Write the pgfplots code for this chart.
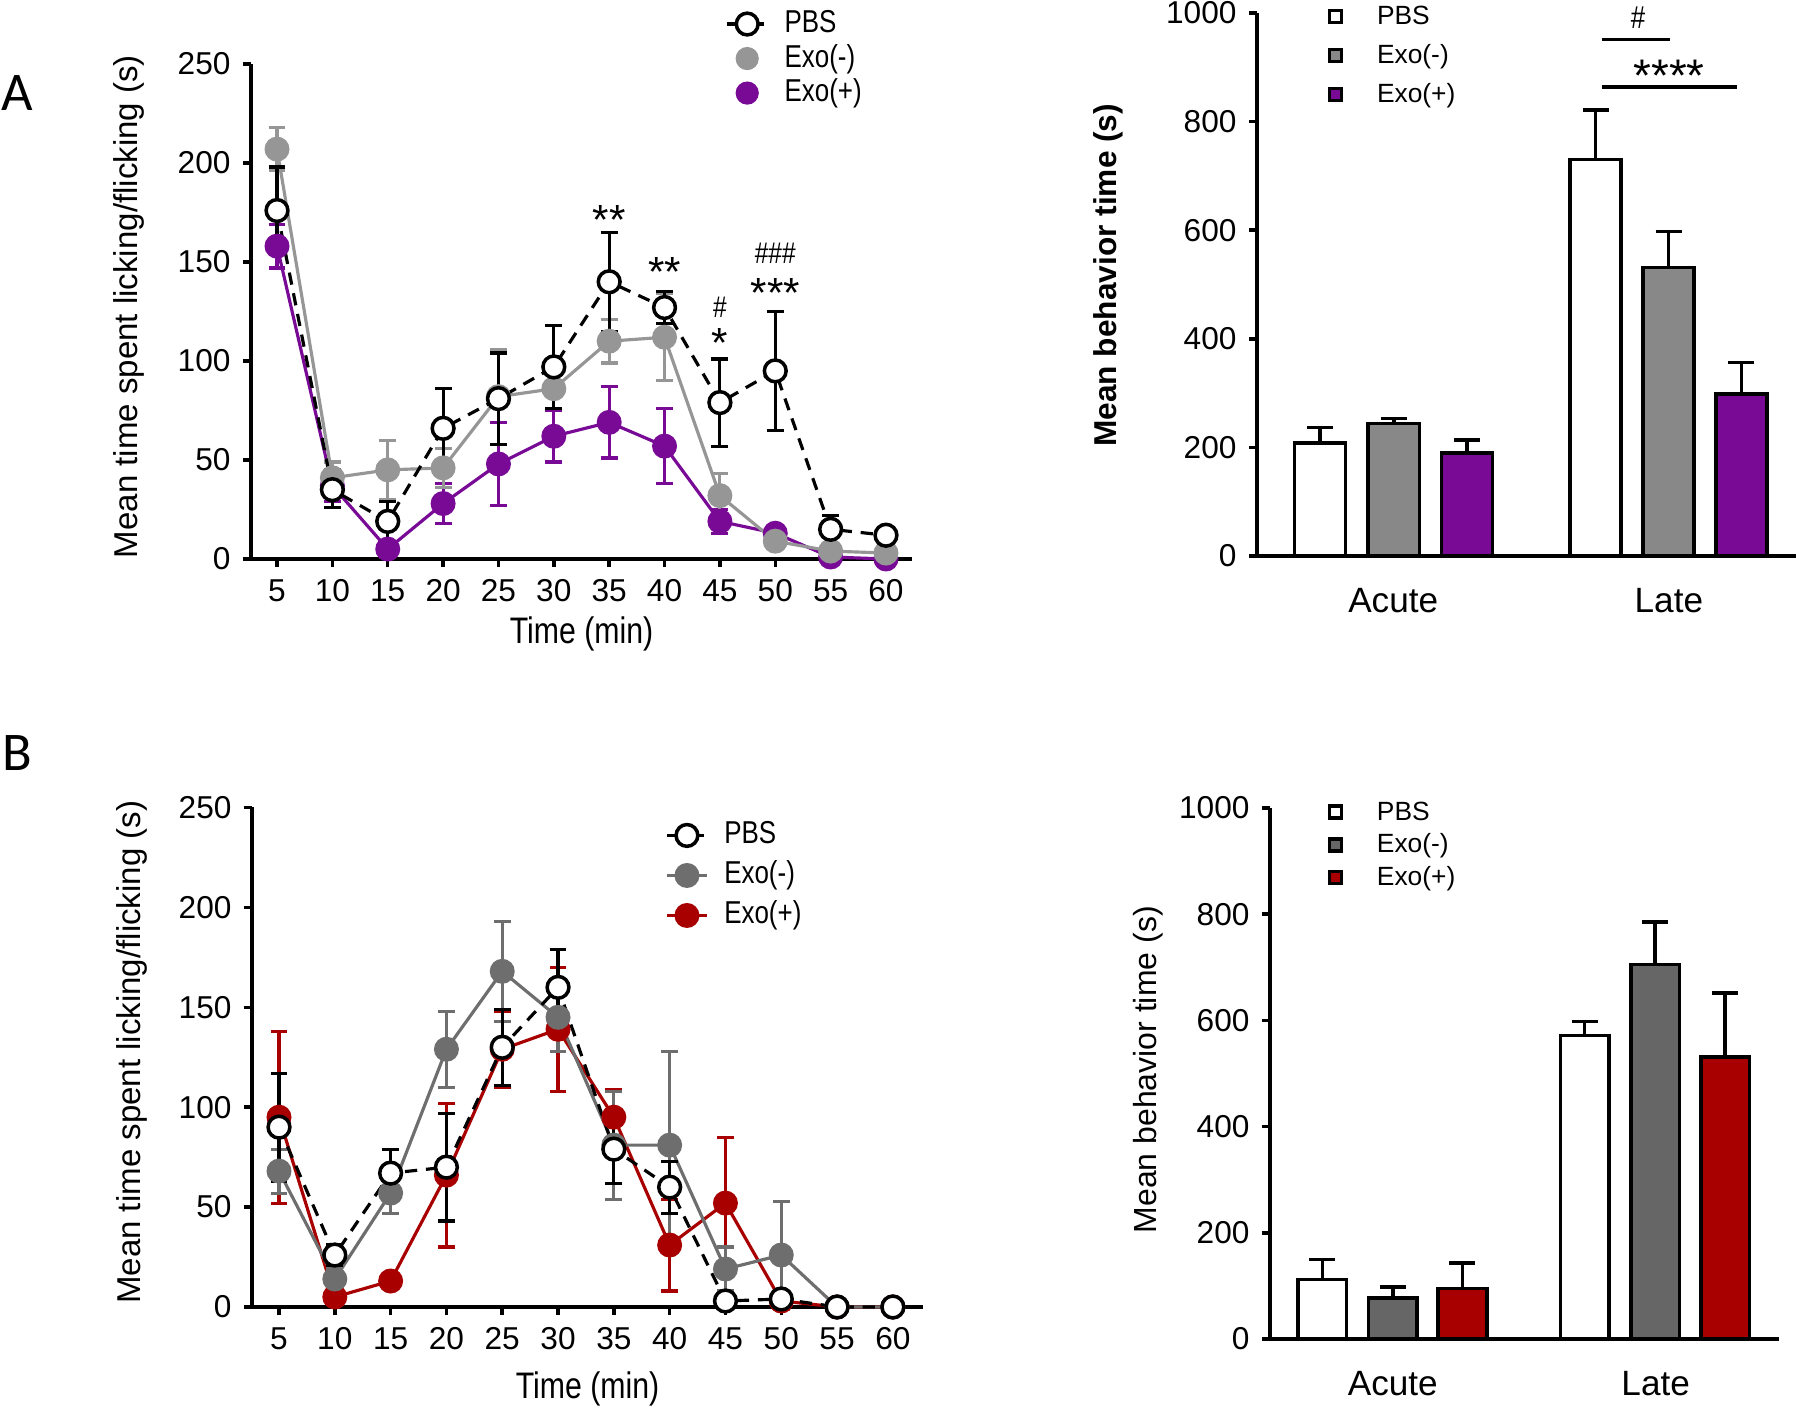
\documentclass[border=0pt]{standalone}
\usepackage{fontspec}
\setmainfont{Liberation Sans}
\newfontfamily\narrowfont{Liberation Sans}[FakeStretch=0.82]
\newfontfamily\panelfont{Carlito}
\usepackage{pgfplots}
\usepackage{pgfplotstable}
\pgfplotsset{compat=1.18}

\definecolor{purp}{RGB}{120,10,150}
\definecolor{grAl}{RGB}{150,150,150}
\definecolor{grAb}{RGB}{136,136,136}
\definecolor{grBl}{RGB}{110,110,110}
\definecolor{grBb}{RGB}{102,102,102}
\definecolor{redB}{RGB}{168,0,0}

% ---------- Panel A, time course ----------
\pgfplotstableread{
x y e
5 176 22
10 35 9
15 19 10
20 66 20
25 81 23
30 97 21
35 140 25
40 127 8
45 79 22
50 95 30
55 15 7
60 12 3
}\APBS
\pgfplotstableread{
x y e
5 207 11
10 41 8
15 45 15
20 46 10
25 82 24
30 86 10
35 110 11
40 112 22
45 32 11
50 9 2
55 4 3
60 3 2
}\AExoM
\pgfplotstableread{
x y e
5 158 11
10 37 8
15 5 4
20 28 10
25 48 21
30 62 13
35 69 18
40 57 19
45 19 6
50 13 3
55 1 1
60 0 1
}\AExoP
% ---------- Panel A, bars ----------
\pgfplotstableread{
x y e
-0.266 208 29
0.734 730 91
}\ABPBS
\pgfplotstableread{
x y e
0.002 244 9
0.999 531 67
}\ABExoM
\pgfplotstableread{
x y e
0.267 190 24
1.263 298 58
}\ABExoP
% ---------- Panel B, time course ----------
\pgfplotstableread{
x y e
5 90 27
10 26 5
15 67 12
20 70 27
25 130 19
30 160 19
35 79 17
40 60 13
45 3 2
50 4 2
55 0 0
60 0 0
}\BPBS
\pgfplotstableread{
x y e
5 68 11
10 14 5
15 57 10
20 129 19
25 168 25
30 145 17
35 81 27
40 81 47
45 19 11
50 26 27
55 0 0
60 0 0
}\BExoM
\pgfplotstableread{
x y e
5 95 43
10 5 3
15 13 2
20 66 36
25 129 19
30 139 31
35 95 14
40 31 23
45 52 33
50 3 2
55 0 0
60 0 0
}\BExoP
% ---------- Panel B, bars ----------
\pgfplotstableread{
x y e
-0.268 112 38
0.730 572 26
}\BBPBS
\pgfplotstableread{
x y e
0.000 77 21
0.998 705 80
}\BBExoM
\pgfplotstableread{
x y e
0.265 95 48
1.264 531 121
}\BBExoP

\pgfplotsset{
  panel/.style={
    scale only axis, anchor=south west,
    axis x line=bottom, axis y line=left,
    axis line style={-, line width=1.1pt, black},
    tick style={black, line width=1pt},
    tick align=outside,
    major tick length=2.3pt,
    tick label style={font=\fontsize{9}{10}\selectfont, black},
    /pgf/number format/assume math mode=true,
    /pgf/number format/1000 sep={},
    clip=false,
  },
  tc/.style={panel,
    xtick={5,10,...,60}, ytick={0,50,...,250}, ymin=0, ymax=250,
    xlabel={Time (min)},
    xlabel style={font=\narrowfont\fontsize{10.5}{11}\selectfont, anchor=center},
    ylabel={Mean time spent licking/flicking (s)},
    ylabel style={font=\fontsize{9.4}{10}\selectfont, anchor=center},
    legend cell align=left,
    legend image code/.code={\draw[mark repeat=2, mark phase=2, ##1] plot coordinates {(0mm,0mm) (2mm,0mm) (4mm,0mm)};},
    legend style={draw=none, fill=none, inner sep=0pt, anchor=north west,
      font=\narrowfont\fontsize{9}{10}\selectfont,
      nodes={inner sep=0.5pt, text height=2.4mm, text depth=0.7mm},
      /tikz/every odd column/.append style={column sep=1.4mm}},
  },
  bc/.style={panel,
    ymin=0, ymax=1000, ytick={0,200,...,1000},
    xtick={0,1}, xticklabels={Acute,Late},
    x tick style={draw=none},
    xticklabel style={font=\fontsize{10}{11}\selectfont, yshift=-1.2mm},
    legend cell align=left,
    legend style={draw=none, fill=none, inner sep=0pt, anchor=north west,
      font=\fontsize{7.5}{8}\selectfont,
      nodes={inner sep=0.5pt, text height=2.2mm, text depth=0.6mm},
      /tikz/every odd column/.append style={column sep=3.2mm}},
  },
  ser/.style={color=#1, line width=0.9pt, mark=*, mark size=3.1pt,
    mark options={solid, fill=#1, draw=#1},
    /pgfplots/error bars/y dir=both, /pgfplots/error bars/y explicit,
    /pgfplots/error bars/error bar style={line width=0.9pt, solid},
    /pgfplots/error bars/error mark options={rotate=90, line width=0.9pt, mark size=2.4pt}},
  pbsser/.style={color=black, line width=0.9pt, dash pattern=on 3.5pt off 2.5pt,
    mark=*, mark size=3.1pt, mark options={solid, fill=white, draw=black, line width=1pt},
    /pgfplots/error bars/y dir=both, /pgfplots/error bars/y explicit,
    /pgfplots/error bars/error bar style={line width=0.9pt, solid},
    /pgfplots/error bars/error mark options={rotate=90, line width=0.9pt, mark size=2.4pt, solid}},
  barser/.style={ybar, bar shift=0pt, bar width=0.185, draw=black, line width=1pt, fill=#1,
    /pgfplots/error bars/y dir=plus, /pgfplots/error bars/y explicit,
    /pgfplots/error bars/error bar style={line width=1pt, black},
    /pgfplots/error bars/error mark options={rotate=90, line width=1pt, mark size=3.7pt, black},
    legend image code/.code={\draw[##1, line width=1pt] (0mm,-0.6mm) rectangle (1.2mm,0.6mm);}},
}

\begin{document}
\begin{tikzpicture}
\path[use as bounding box] (0,0) rectangle (180mm,141.1mm);
\node[font=\panelfont\fontsize{15.5}{16}\selectfont, inner sep=0pt] at (1.75mm,131.8mm) {A};
\node[font=\panelfont\fontsize{15.5}{16}\selectfont, inner sep=0pt] at (1.7mm,65.8mm) {B};

% ===== A: time course =====
\begin{axis}[tc, at={(25.1mm,85.2mm)}, width=66.1mm, height=49.5mm,
  xmin=2.65, xmax=62.35,
  xlabel style={at={(axis description cs:0.5,-0.152)}},
  ylabel style={at={(axis description cs:-0.185,0.51)}},
  legend style={at={(axis description cs:0.717,1.117)}, row sep=0pt}]
\addlegendimage{black, line width=0.9pt, dash pattern=on 2.5pt off 1.5pt, mark=*, mark size=3.1pt, mark options={solid, fill=white, draw=black, line width=1pt}}
\addlegendentry{PBS}
\addlegendimage{only marks, mark=*, mark size=3.1pt, color=grAl}
\addlegendentry{Exo(-)}
\addlegendimage{only marks, mark=*, mark size=3.1pt, color=purp}
\addlegendentry{Exo(+)}
\addplot[ser=purp, forget plot] table[x=x, y=y, y error=e] {\AExoP};
\addplot[ser=grAl, forget plot] table[x=x, y=y, y error=e] {\AExoM};
\addplot[pbsser, forget plot] table[x=x, y=y, y error=e] {\APBS};
\node[font=\fontsize{12}{12}\selectfont, anchor=base] at (axis cs:35,164) {**};
\node[font=\fontsize{12}{12}\selectfont, anchor=base] at (axis cs:40,137.5) {**};
\node[font=\narrowfont\fontsize{8.5}{9}\selectfont, anchor=base] at (axis cs:45,122) {\#};
\node[font=\fontsize{12}{12}\selectfont, anchor=base] at (axis cs:45,102) {*};
\node[font=\narrowfont\fontsize{8.5}{9}\selectfont, anchor=base] at (axis cs:50,149) {\#\#\#};
\node[font=\fontsize{12}{12}\selectfont, anchor=base] at (axis cs:50,127) {***};
\end{axis}

% ===== A: bars =====
\begin{axis}[bc, at={(125.7mm,85.5mm)}, width=53.9mm, height=54.3mm,
  xmin=-0.494, xmax=1.461,
  ylabel={Mean behavior time (s)},
  ylabel style={font=\bfseries\fontsize{9}{10}\selectfont, at={(axis description cs:-0.276,0.517)}, anchor=center},
  legend style={at={(axis description cs:0.13,1.024)}, row sep=0.75mm}]
\addplot[barser=white] table[x=x, y=y, y error=e] {\ABPBS};
\addlegendentry{PBS}
\addplot[barser=grAb] table[x=x, y=y, y error=e] {\ABExoM};
\addlegendentry{Exo(-)}
\addplot[barser=purp] table[x=x, y=y, y error=e] {\ABExoP};
\addlegendentry{Exo(+)}
\draw[line width=1pt] (axis cs:0.758,951) -- (axis cs:1.004,951);
\draw[line width=1pt] (axis cs:0.758,864) -- (axis cs:1.247,864);
\node[font=\narrowfont\fontsize{9}{10}\selectfont, anchor=base] at (axis cs:0.888,971) {\#};
\node[font=\fontsize{13}{13}\selectfont, anchor=base] at (axis cs:1.001,856) {****};
\end{axis}

% ===== B: time course =====
\begin{axis}[tc, at={(25.2mm,10.4mm)}, width=67.1mm, height=49.95mm,
  xmin=2.58, xmax=62.7,
  xlabel style={at={(axis description cs:0.5,-0.164)}},
  ylabel style={at={(axis description cs:-0.179,0.51)}},
  legend style={at={(axis description cs:0.615,0.98)}, row sep=0.55mm}]
\addlegendimage{black, line width=0.9pt, dash pattern=on 2.5pt off 1.5pt, mark=*, mark size=3.1pt, mark options={solid, fill=white, draw=black, line width=1pt}}
\addlegendentry{PBS}
\addlegendimage{grBl, line width=0.9pt, mark=*, mark size=3.1pt, mark options={fill=grBl, draw=grBl}}
\addlegendentry{Exo(-)}
\addlegendimage{redB, line width=0.9pt, mark=*, mark size=3.1pt, mark options={fill=redB, draw=redB}}
\addlegendentry{Exo(+)}
\addplot[ser=redB, forget plot] table[x=x, y=y, y error=e] {\BExoP};
\addplot[ser=grBl, forget plot] table[x=x, y=y, y error=e] {\BExoM};
\addplot[pbsser, forget plot] table[x=x, y=y, y error=e] {\BPBS};
\end{axis}

% ===== B: bars =====
\begin{axis}[bc, at={(127.0mm,7.2mm)}, width=50.9mm, height=53.1mm,
  xmin=-0.467, xmax=1.469,
  ylabel={Mean behavior time (s)},
  ylabel style={font=\fontsize{9.1}{10}\selectfont, at={(axis description cs:-0.24,0.507)}, anchor=center},
  legend style={at={(axis description cs:0.112,1.023)}, row sep=0.1mm}]
\addplot[barser=white] table[x=x, y=y, y error=e] {\BBPBS};
\addlegendentry{PBS}
\addplot[barser=grBb] table[x=x, y=y, y error=e] {\BBExoM};
\addlegendentry{Exo(-)}
\addplot[barser=redB] table[x=x, y=y, y error=e] {\BBExoP};
\addlegendentry{Exo(+)}
\end{axis}
\end{tikzpicture}
\end{document}
